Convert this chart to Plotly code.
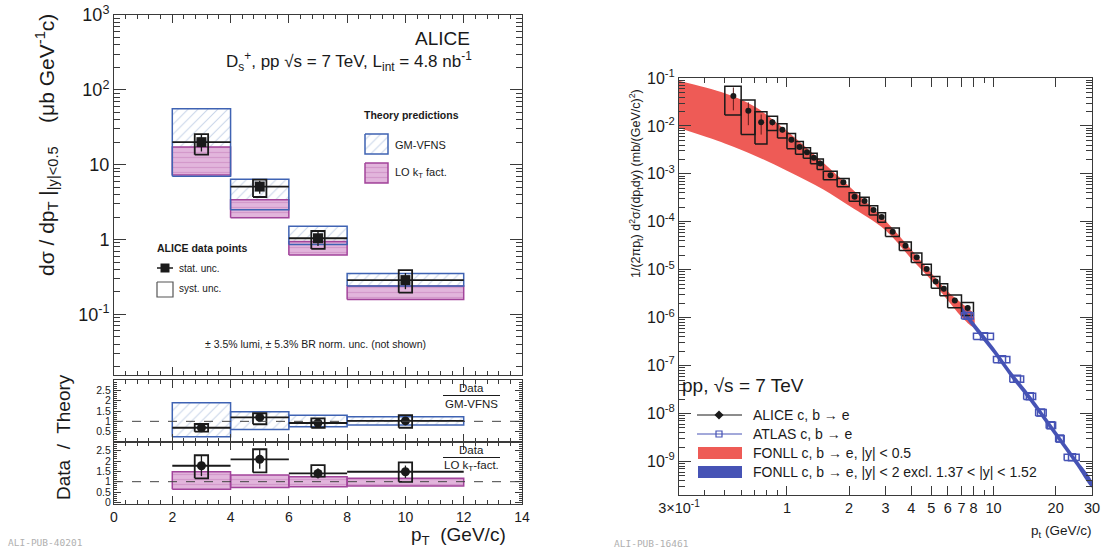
import math
import plotly.graph_objects as go

W, H = 1104, 550

# ---------------- D_s+ cross section, pp 7 TeV (left) ----------------
bin_lo = [2, 4, 6, 8]
bin_hi = [4, 6, 8, 12]
pt_ds = [3, 5, 7, 10]
ds_xsec = [20.0, 5.1, 1.04, 0.287]
ds_stat = [5.0, 1.0, 0.22, 0.07]
ds_syst_hi = [25.6, 6.3, 1.30, 0.39]
ds_syst_lo = [13.6, 3.7, 0.75, 0.195]

gm_hi = [56.0, 6.4, 1.5, 0.352]
gm_lo = [7.0, 2.5, 0.86, 0.24]
lo_hi = [17.2, 3.4, 0.94, 0.239]
lo_lo = [7.3, 1.95, 0.62, 0.158]

# Data / GM-VFNS
r_gm = [0.69, 1.19, 0.92, 1.02]
r_gm_stat = [0.12, 0.2, 0.12, 0.15]
r_gm_syst_hi = [0.87, 1.39, 1.14, 1.30]
r_gm_syst_lo = [0.50, 0.86, 0.69, 0.69]
r_gm_band_hi = [1.90, 1.46, 1.30, 1.22]
r_gm_band_lo = [0.26, 0.61, 0.74, 0.82]

# Data / LO kT-fact.
r_lo = [1.77, 2.08, 1.40, 1.48]
r_lo_stat = [0.5, 0.45, 0.25, 0.3]
r_lo_syst_hi = [2.28, 2.57, 1.80, 1.93]
r_lo_syst_lo = [1.16, 1.45, 1.24, 0.995]
r_lo_band_hi = [1.48, 1.32, 1.24, 1.16]
r_lo_band_lo = [0.63, 0.72, 0.75, 0.79]

# ---------------- heavy-flavour electrons, pp 7 TeV (right) ----------------
alice_pt = [0.55, 0.65, 0.75, 0.85, 0.95, 1.05, 1.15, 1.25, 1.35, 1.45,
            1.625, 1.875, 2.125, 2.375, 2.625, 2.875,
            3.25, 3.75, 4.25, 4.75, 5.25, 5.75, 6.5, 7.5]
alice_hw = [0.05] * 10 + [0.125] * 6 + [0.25] * 6 + [0.5] * 2
alice_val = [0.0423, 0.0207, 0.0120, 0.0120, 0.00834, 0.00517, 0.00365, 0.00282,
             0.00216, 0.00164, 0.00094, 0.00067, 0.000335, 0.000272, 0.000177,
             0.000126, 6.17e-5, 3.16e-5, 1.82e-5, 1.04e-5, 5.67e-6, 4.0e-6,
             2.29e-6, 1.59e-6]
alice_stat_rel = [0.5, 0.5, 0.45, 0.15, 0.12, 0.1, 0.08, 0.08, 0.07, 0.07, 0.06, 0.06,
                  0.06, 0.06, 0.06, 0.07, 0.07, 0.08, 0.08, 0.1, 0.1, 0.12, 0.12, 0.15]
alice_syst_rel = [0.6, 0.68, 0.65, 0.33, 0.33, 0.35, 0.3, 0.25, 0.25, 0.25, 0.2, 0.2,
                  0.2, 0.2, 0.22, 0.22, 0.2, 0.2, 0.22, 0.25, 0.28, 0.28, 0.3, 0.3]

atlas_pt = [7.5, 9, 11, 13, 15, 17, 19, 21, 24]
atlas_hw = [0.5, 1, 1, 1, 1, 1, 1, 1, 2]
atlas_val = [1.1e-6, 4.1e-7, 1.35e-7, 5.3e-8, 2.3e-8, 1.05e-8, 5.7e-9, 3.0e-9, 1.23e-9]
atlas_syst_rel = [0.15] * 9

fonll_pt = [0.3, 0.5, 0.7, 1.0, 1.5, 2.0, 3.0, 4.0, 5.0, 6.0, 7.0, 8.0]
fonll_hi = [0.088, 0.048, 0.025, 0.0078, 0.0017, 0.00055, 0.000105, 2.6e-5,
            8.5e-6, 3.5e-6, 2.0e-6, 1.2e-6]
fonll_lo = [0.0090, 0.0043, 0.0024, 0.00116, 0.00047, 0.000215, 6.7e-5, 1.7e-5,
            6.0e-6, 2.3e-6, 1.05e-6, 6.5e-7]

fonll_atlas_pt = [7, 8, 10, 12, 15, 20, 25, 30]
fonll_atlas_hi = [1.76e-6, 8.2e-7, 2.43e-7, 8.2e-8, 2.43e-8, 4.4e-9, 1.16e-9, 3.85e-10]
fonll_atlas_lo = [1.3e-6, 6.1e-7, 1.8e-7, 6.1e-8, 1.8e-8, 3.27e-9, 8.6e-10, 2.85e-10]

# ---------------- styling ----------------
FONT = "Liberation Sans, Arial, Helvetica, sans-serif"
INK = "#1a1a1a"
FRAME = "#3a3a3a"
GM_LINE = "#3f63b3"
GM_HATCH = "#94abd3"
LO_FILL = "#e2b5dc"
LO_HATCH = "#c47dba"
LO_LINE = "#a2449b"
RED = "#ee5b56"
BLUE = "#4653b5"
SYS_HW = 0.23          # half width of the systematic boxes (GeV/c)


def px(X):
    return X / W


def py(Y):
    return 1 - Y / H


def rects(xl, xh, yl, yh):
    xs, ys = [], []
    for a, b, c, d in zip(xl, xh, yl, yh):
        xs += [a, b, b, a, a, None]
        ys += [c, c, d, d, c, None]
    return xs, ys


fig = go.Figure()


def add(tr, ax=""):
    tr.update(xaxis="x" + ax, yaxis="y" + ax, showlegend=False, hoverinfo="skip")
    fig.add_trace(tr)


def hatched(xs, ys, shape, fg, bg, ax, line_color=None, size=7, solidity=0.15):
    add(go.Scatter(x=xs, y=ys, mode="lines", fill="toself", fillcolor=bg,
                   fillpattern=dict(shape=shape, fgcolor=fg, bgcolor=bg,
                                    size=size, solidity=solidity),
                   line=dict(width=1.5 if line_color else 0,
                             color=line_color or bg)), ax)


def outline(xs, ys, color, ax, width=1.5):
    add(go.Scatter(x=xs, y=ys, mode="lines", line=dict(color=color, width=width)), ax)


def data_points(x, y, xerr, yerr, shi, slo, symbol, size, ax):
    bx, by = rects([v - SYS_HW for v in x], [v + SYS_HW for v in x], slo, shi)
    outline(bx, by, INK, ax, 1.8)
    add(go.Scatter(x=x, y=y, mode="markers",
                   marker=dict(symbol=symbol, size=size, color=INK),
                   error_x=dict(type="data", array=xerr, width=0, thickness=1.8, color=INK),
                   error_y=dict(type="data", array=yerr, width=0, thickness=1.3, color=INK)), ax)


half = [(h - l) / 2 for l, h in zip(bin_lo, bin_hi)]

# ---- main panel: theory boxes and data ----
gx, gy = rects(bin_lo, bin_hi, gm_lo, gm_hi)
hatched(gx, gy, "/", GM_HATCH, "white", "")
lx, ly = rects(bin_lo, bin_hi, lo_lo, lo_hi)
hatched(lx, ly, "-", LO_HATCH, LO_FILL, "", LO_LINE, size=5, solidity=0.25)
outline(gx, gy, GM_LINE, "")
data_points(pt_ds, ds_xsec, half, ds_stat, ds_syst_hi, ds_syst_lo, "square", 10, "")

# ---- ratio to GM-VFNS ----
gx2, gy2 = rects(bin_lo, bin_hi, r_gm_band_lo, r_gm_band_hi)
hatched(gx2, gy2, "/", GM_HATCH, "white", "2", GM_LINE)
data_points(pt_ds, r_gm, half, r_gm_stat, r_gm_syst_hi, r_gm_syst_lo, "circle", 9, "2")

# ---- ratio to LO kT-factorisation ----
lx3, ly3 = rects(bin_lo, bin_hi, r_lo_band_lo, r_lo_band_hi)
hatched(lx3, ly3, "-", LO_HATCH, LO_FILL, "3", LO_LINE, size=5, solidity=0.25)
data_points(pt_ds, r_lo, half, r_lo_stat, r_lo_syst_hi, r_lo_syst_lo, "circle", 9, "3")

# ---- right panel: FONLL bands ----
add(go.Scatter(x=fonll_pt + fonll_pt[::-1], y=fonll_hi + fonll_lo[::-1], mode="lines",
               fill="toself", fillcolor=RED, line=dict(width=0, color=RED),
               line_shape="spline"), "4")
add(go.Scatter(x=fonll_atlas_pt + fonll_atlas_pt[::-1],
               y=fonll_atlas_hi + fonll_atlas_lo[::-1], mode="lines",
               fill="toself", fillcolor=BLUE, line=dict(width=0, color=BLUE),
               line_shape="spline"), "4")

# ALICE electrons
ax_, ay_ = rects([p - h for p, h in zip(alice_pt, alice_hw)],
                 [p + h for p, h in zip(alice_pt, alice_hw)],
                 [v * (1 - s) for v, s in zip(alice_val, alice_syst_rel)],
                 [v * (1 + s) for v, s in zip(alice_val, alice_syst_rel)])
outline(ax_, ay_, INK, "4", 1.5)
add(go.Scatter(x=alice_pt, y=alice_val, mode="markers",
               marker=dict(symbol="circle", size=6, color=INK),
               error_y=dict(type="data",
                            array=[v * s for v, s in zip(alice_val, alice_stat_rel)],
                            width=0, thickness=1, color="#5a1a1a")), "4")

# ATLAS electrons
tx, ty = rects([p - h for p, h in zip(atlas_pt, atlas_hw)],
               [p + h for p, h in zip(atlas_pt, atlas_hw)],
               [v * (1 - s) for v, s in zip(atlas_val, atlas_syst_rel)],
               [v * (1 + s) for v, s in zip(atlas_val, atlas_syst_rel)])
outline(tx, ty, BLUE, "4", 1.5)
add(go.Scatter(x=atlas_pt, y=atlas_val, mode="markers",
               marker=dict(symbol="square-open", size=7, color=BLUE,
                           line=dict(width=1.5, color=BLUE))), "4")

# ---- legend glyphs (pixel-space overlay) ----
hatched([365, 388, 388, 365, 365], [134, 134, 154, 154, 134], "/", GM_HATCH, "white", "5", GM_LINE)
hatched([365, 388, 388, 365, 365], [163, 163, 183, 183, 163], "-", LO_HATCH, LO_FILL, "5", LO_LINE,
        size=5, solidity=0.25)
outline([157, 173], [268, 268], INK, "5", 1.5)
add(go.Scatter(x=[165], y=[268], mode="markers", marker=dict(symbol="square", size=9, color=INK)), "5")
outline([157, 173, 173, 157, 157], [282, 282, 297, 297, 282], "#555", "5", 1.2)
outline([443, 500], [395.5, 395.5], INK, "5", 1)
outline([443, 500], [457.5, 457.5], INK, "5", 1)
outline([697, 742], [415, 415], INK, "5", 1)
add(go.Scatter(x=[719], y=[415], mode="markers", marker=dict(symbol="diamond", size=7, color=INK)), "5")
outline([697, 742], [434, 434], BLUE, "5", 1)
add(go.Scatter(x=[719], y=[434], mode="markers",
               marker=dict(symbol="square-open", size=6, color=BLUE, line=dict(width=1.2, color=BLUE))), "5")
add(go.Scatter(x=[698, 742, 742, 698, 698], y=[447, 447, 459, 459, 447], mode="lines", fill="toself",
               fillcolor=RED, line=dict(width=0, color=RED)), "5")
add(go.Scatter(x=[698, 742, 742, 698, 698], y=[466, 466, 478, 478, 466], mode="lines", fill="toself",
               fillcolor=BLUE, line=dict(width=0, color=BLUE)), "5")

# ---- axes ----
base = dict(showline=True, linecolor=FRAME, linewidth=1, mirror="ticks", ticks="inside",
            tickcolor=FRAME, showgrid=False, zeroline=False, automargin=False,
            tickfont=dict(family=FONT, color=INK))

lin_x = dict(base, range=[0, 14], tickvals=list(range(0, 15, 2)), ticklen=8,
             domain=[px(114), px(522)],
             minor=dict(ticks="inside", dtick=0.4, tick0=0, ticklen=4, tickcolor=FRAME))


def log_minor(lo, hi):
    return [m * 10 ** k for k in range(lo, hi) for m in range(2, 10)]


fig.update_layout(
    xaxis=dict(lin_x, anchor="y", showticklabels=False),
    yaxis=dict(base, type="log", domain=[py(375), py(15)], range=[-1.81, 3], anchor="x",
               tickvals=[0.1, 1, 10, 100, 1000],
               ticktext=["10<sup>-1</sup>", "1", "10", "10<sup>2</sup>", "10<sup>3</sup>"],
               ticklen=12, tickfont=dict(family=FONT, size=18, color=INK),
               minor=dict(ticks="inside", ticklen=6, tickcolor=FRAME,
                          tickvals=log_minor(-2, 3))),
    xaxis2=dict(lin_x, anchor="y2", showticklabels=False),
    yaxis2=dict(base, domain=[py(442), py(380)], range=[0, 3], anchor="x2",
                tickvals=[0.5, 1, 1.5, 2, 2.5], ticktext=["0.5", "1", "1.5", "2", "2.5"],
                ticklen=7, tickfont=dict(family=FONT, size=10.5, color=INK),
                minor=dict(ticks="inside", dtick=0.1, ticklen=3, tickcolor=FRAME)),
    xaxis3=dict(lin_x, anchor="y3", showticklabels=True,
                tickfont=dict(family=FONT, size=14, color=INK)),
    yaxis3=dict(base, domain=[py(504), py(442)], range=[-0.08, 2.92], anchor="x3",
                tickvals=[0, 0.5, 1, 1.5, 2, 2.5], ticktext=["0", "0.5", "1", "1.5", "2", "2.5"],
                ticklen=7, tickfont=dict(family=FONT, size=10.5, color=INK),
                minor=dict(ticks="inside", dtick=0.1, ticklen=3, tickcolor=FRAME)),
    xaxis4=dict(base, type="log", domain=[px(679), px(1092)], range=[math.log10(0.3), math.log10(30)],
                anchor="y4",
                tickvals=[0.3, 1, 2, 3, 4, 5, 6, 7, 8, 10, 20, 30],
                ticktext=["3×10<sup>-1</sup>", "1", "2", "3", "4", "5", "6", "7", "8", "10", "20", "30"],
                ticklen=9, tickfont=dict(family=FONT, size=14.5, color=INK),
                minor=dict(ticks="inside", ticklen=5, tickcolor=FRAME,
                           tickvals=[0.4, 0.5, 0.6, 0.7, 0.8, 0.9, 9])),
    yaxis4=dict(base, type="log", domain=[py(495), py(78)], range=[-9.7, -1], anchor="x4",
                tickvals=[10.0 ** -k for k in range(1, 10)],
                ticktext=["10<sup>-%d</sup>" % k for k in range(1, 10)],
                ticklen=12, tickfont=dict(family=FONT, size=16, color=INK),
                minor=dict(ticks="inside", ticklen=6, tickcolor=FRAME,
                           tickvals=log_minor(-10, -1))),
    xaxis5=dict(domain=[0, 1], range=[0, W], visible=False, fixedrange=True, anchor="y5",
                automargin=False),
    yaxis5=dict(domain=[0, 1], range=[H, 0], visible=False, fixedrange=True, anchor="x5",
                automargin=False),
    width=W, height=H, margin=dict(l=0, r=0, t=0, b=0, autoexpand=False),
    paper_bgcolor="white", plot_bgcolor="rgba(0,0,0,0)",
    font=dict(family=FONT, color=INK),
    showlegend=False,
)

# dashed unity lines in the ratio panels
for ax in ("2", "3"):
    fig.add_shape(type="line", xref="x" + ax, yref="y" + ax, x0=0, x1=14, y0=1, y1=1,
                  line=dict(color="#444", width=1, dash="dash"), layer="above")


def note(text, X, Y, size, xanchor="left", angle=0, color=INK, family=FONT):
    fig.add_annotation(text=text, x=px(X), y=py(Y), xref="paper", yref="paper",
                       xanchor=xanchor, yanchor="middle", showarrow=False, textangle=angle,
                       font=dict(size=size, color=color, family=family))


# left panel texts
note("ALICE", 472, 38, 19, "right")
note("D<sub>s</sub><sup>+</sup>, pp √s = 7 TeV, L<sub>int</sub> = 4.8 nb<sup>-1</sup>", 474, 61, 17, "right")
note("<b>Theory predictions</b>", 362, 115, 10.5)
note("GM-VFNS", 393, 145, 11)
note("LO k<sub>T</sub> fact.", 393, 173, 11)
note("<b>ALICE data points</b>", 155, 248, 10.5)
note("stat. unc.", 177, 268, 10)
note("syst. unc.", 177, 288, 10)
note("± 3.5% lumi, ± 5.3% BR norm. unc. (not shown)", 315, 344, 10.5, "center")
note("Data", 471, 388, 11.5, "center")
note("GM-VFNS", 471, 404, 11.5, "center")
note("Data", 471, 450, 11.5, "center")
note("LO k<sub>T</sub>-fact.", 471, 466, 11.5, "center")
note("dσ / dp<sub>T</sub> |<sub>|y|&lt;0.5</sub>    (μb GeV<sup>-1</sup>c)", 46, 145, 21, "center", -90)
note("Data  /  Theory", 63, 437, 19, "center", -90)
note("p<sub>T</sub>  (GeV/c)", 508, 536, 19, "right")
note("ALI-PUB-40201", 6, 542, 9.5, "left", color="#b0b0b0", family="DejaVu Sans Mono, monospace")

# right panel texts
note("1/(2πp<sub>t</sub>) d<sup>2</sup>σ/(dp<sub>t</sub>dy) (mb/(GeV/c)<sup>2</sup>)", 636, 184, 12.5,
     "center", -90)
note("pp, √s = 7 TeV", 680, 385, 19)
note("ALICE c, b → e", 751, 415, 14)
note("ATLAS c, b → e", 751, 434, 14)
note("FONLL c, b → e, |y| &lt; 0.5", 751, 453, 14)
note("FONLL c, b → e, |y| &lt; 2 excl. 1.37 &lt; |y| &lt; 1.52", 751, 472, 14)
note("p<sub>t</sub> (GeV/c)", 1093, 531, 13.5, "right")
note("ALI-PUB-16461", 612, 543, 9.5, "left", color="#b0b0b0", family="DejaVu Sans Mono, monospace")

fig.write_html("out.html")
